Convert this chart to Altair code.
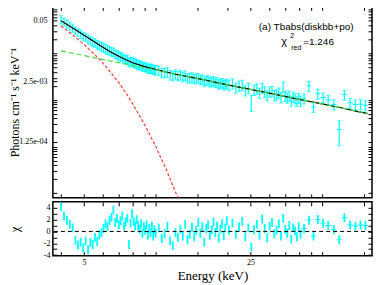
import altair as alt
import pandas as pd

energy = [
    4.00, 4.12, 4.24, 4.36, 4.48, 4.60, 4.72, 4.84, 4.96, 5.08,
    5.20, 5.32, 5.44, 5.56, 5.68, 5.80, 5.92, 6.04, 6.16, 6.28,
    6.40, 6.52, 6.64, 6.76, 6.88, 7.00, 7.12, 7.24, 7.36, 7.48,
    7.60, 7.72, 7.84, 7.96, 8.08, 8.20, 8.32, 8.44, 8.56, 8.68,
    8.80, 8.92, 9.04, 9.16, 9.28, 9.40, 9.52, 9.64, 9.76, 9.88,
    10.0, 10.3, 10.6, 10.9, 11.2, 11.5, 11.8, 12.1, 12.4, 12.7,
    13.0, 13.3, 13.6, 13.9, 14.2, 14.5, 14.8, 15.1, 15.4, 15.7,
    16.0, 16.3, 16.6, 16.9, 17.2, 17.5, 17.8, 18.1, 18.4, 18.7,
    19.0, 19.3, 19.6, 19.9,
    20.3, 21.0, 21.7, 22.4, 23.1, 23.8, 24.5, 25.2, 25.9, 26.6,
    27.3, 28.0, 28.7, 29.4, 30.1, 30.8, 31.5, 32.2, 32.9, 33.6,
    34.3, 35.0, 35.7, 36.4, 37.1, 37.8, 38.5, 39.2, 39.9, 40.6,
    42.0, 44.0, 46.0, 48.0, 50.5, 53.0, 56.0, 59.0, 62.0, 65.5,
    69.0, 72.5, 76.0,
]
flux = [
    .0535, .0481, .0435, .0392, .0354, .0312, .0283, .0262, .0238, .0225,
    .0203, .0192, .0177, .0170, .0156, .0149, .0141, .0134, .0128, .0120,
    .0115, .0110, .0107, .0098, .0095, .0089, .0086, .0083, .0077, .0075,
    .0074, .0065, .0068, .0068, .0064, .0062, .0061, .0058, .0056, .0056,
    .0053, .0053, .0051, .0051, .0048, .0048, .0048, .0048, .0045, .0045,
    .0044, .0044, .0039, .0039, .0040, .0035, .0033, .0036, .0033, .0035,
    .0032, .0034, .0030, .0030, .0031, .0029, .0029, .0030, .00275, .0028,
    .0025, .00267, .00268, .00246, .0025, .00258, .00237, .00243, .00221, .00231,
    .00234, .00213, .00221, .00227,
    .00213, .00229, .00185, .00203, .00213, .00161, .00181, .00091, .00167, .00176,
    .00144, .00180, .00153, .00126, .00152, .00155, .00127, .00132, .00144, .00114,
    .00194, .00124, .00113, .00125, .00097, .00117, .00109, .00096, .00112, .00097,
    .00108, .00200, .00071, .00136, .00113, .00100, .00080, .00023, .00130, .00087,
    .00080, .00081, .00077,
]
flux_frac_err = (
    [0.20] * 10 + [0.21] * 20 + [0.22] * 20 + [0.23] * 34
    + [0.25] * 7 + [0.38] + [0.25] * 22
    + [0.24] * 7 + [0.55] + [0.24] * 5
)
delchi = [
    4.2, 2.6, 1.9, 1.2, 0.6, -1.5, -2.3, -1.8, -2.8, -1.6,
    -3.1, -1.9, -2.2, -1.0, -1.7, -0.6, -0.2, 0.5, 1.3, 0.8,
    1.9, 2.4, 3.6, 1.5, 2.2, 1.1, 1.8, 2.6, 0.9, 1.6,
    2.2, -2.2, 1.4, 3.0, 1.7, 0.9, 2.0, 1.0, 0.4, 1.3,
    -0.3, 0.8, 0.2, 1.1, -0.6, 0.5, -0.2, 0.9, -0.8, 0.3,
    -0.3, 0.6, -1.2, -0.4, 0.9, -1.6, -2.4, -0.2, -1.0, 0.4,
    -0.8, 1.2, -1.4, -0.5, 0.7, -0.9, 0.2, 1.5, -0.3, 0.8,
    -1.8, 0.5, 1.1, -0.6, 0.3, 1.6, -0.2, 0.9, -1.1, 0.4,
    1.3, -0.7, 0.6, 1.8,
    0.2, 1.4, -0.5, 0.8, 1.7, -0.9, 0.6, -2.6, 0.3, 1.2,
    -0.6, 2.1, 0.5, -1.1, 0.9, 1.5, -0.4, 0.2, 1.3, -0.8,
    2.2, 0.4, -0.3, 1.0, -1.3, 0.6, 0.1, -0.9, 0.8, -0.5,
    0.5, 1.9, -0.8, 2.0, 1.4, 1.0, 0.3, -1.4, 2.3, 1.1,
    0.9, 1.1, 1.0,
]
# half bin widths (keV) of the wide high-energy bins (last 13 bins)
high_bin_half = [1.0, 1.0, 1.0, 1.2, 1.3, 1.5, 1.5, 1.5, 1.7, 1.75, 1.75, 1.75, 1.75]

# ---------------- model curves ----------------
model_energy = [4.0, 4.5, 5.0, 5.5, 6.0, 6.5, 7.0, 7.5, 8.0, 9.0, 10.0, 11.0, 12.0,
                14.0, 16.0, 20.0, 25.0, 30.0, 40.0, 50.0, 60.0, 70.0, 78.0]
model_total = [.0502, .0345, .0245, .0179, .0136, .0106, .0087, .0073, .0063, .0052,
               .0045, .0040, .0036, .0031, .0027, .0021, .00168, .00140, .00103,
               .00082, .00068, .00057, .00051]
model_po = [.0113, .0100, .0090, .0081, .0074, .0068, .0063, .0059, .0055, .0049,
            .0044, .0040, .0036, .0031, .0027, .0021, .00168, .00140, .00103,
            .00082, .00068, .00057, .00051]
disk_energy = [4.0, 4.5, 5.0, 5.5, 6.0, 6.5, 7.0, 7.5, 8.0, 9.0, 10.0, 11.0, 12.0, 12.8]
model_disk = [.039, .0245, .0155, .0098, .0062, .0038, .00234, .00141, 8.3e-4,
              2.9e-4, 1.0e-4, 3.5e-5, 1.17e-5, 5.4e-6]

# ---------------- ticks ----------------
x_major = [5, 25]
x_minor = [4, 6, 7, 8, 9, 10, 15, 20, 30, 35, 40, 45, 50, 75]
y_major = [0.05, 0.0025, 0.000125]
y_minor = [k * 10.0 ** n for n in range(-5, 0) for k in range(1, 10)]
r_ticks = [-4, -3, -2, -1, 0, 1, 2, 3, 4]

# ---------------- tables ----------------
n = len(energy)
half = [0.0] * (n - len(high_bin_half)) + high_bin_half
spec = pd.DataFrame({
    "E": energy,
    "flux": flux,
    "lo": [f * (1 - e) for f, e in zip(flux, flux_frac_err)],
    "hi": [f * (1 + e) for f, e in zip(flux, flux_frac_err)],
    "chi": delchi,
    "chi_lo": [c - 0.75 for c in delchi],
    "chi_hi": [c + 0.75 for c in delchi],
    "E_lo": [e - h for e, h in zip(energy, half)],
    "E_hi": [e + h for e, h in zip(energy, half)],
    "wide": [h > 0 for h in half],
})
wide = spec[spec["wide"]]
models = pd.DataFrame({"E": model_energy, "total": model_total, "po": model_po})
disk = pd.DataFrame({"E": disk_energy, "disk": model_disk})
zero = pd.DataFrame({"z": [0]})

serif = "Liberation Serif"
sans = "Liberation Sans"
cyan = "#00ffff"

xs = alt.Scale(type="log", domain=[3.7, 81.0], nice=False)
ys = alt.Scale(type="log", domain=[7.9e-6, 0.102], nice=False)
rs = alt.Scale(domain=[-4.1, 5.0], nice=False, zero=False)

common = dict(domain=False, grid=False, tickSize=4, offset=-4, tickColor="black",
              tickWidth=1, labelFont=serif, labelFontSize=8, labelColor="black",
              titleFont=serif, titleFontWeight="normal", titleColor="black",
              labelOverlap=False)
x_ticks = sorted(x_major + x_minor)
y_ticks = sorted(set(y_major + [v for v in y_minor if 7.9e-6 <= v <= 0.102]))

x_lab = "datum.value == 5 ? '5' : datum.value == 25 ? '25' : ''"
y_lab = ("datum.value == 0.05 ? '0.05' : datum.value == 0.0025 ? '2.5e-03' : "
         "datum.value == 0.000125 ? '1.25e-04' : ''")
r_lab = "datum.value % 2 == 0 ? '' + datum.value : ''"

ax_top_x = alt.Axis(orient="bottom", values=x_ticks, labels=False, title=None, **common)
ax_top_y = alt.Axis(orient="left", values=y_ticks, labelExpr=y_lab, labelPadding=6,
                    title="Photons cm\u207b\u00b9 s\u207b\u00b9 keV\u207b\u00b9",
                    titleFontSize=12, titlePadding=2, minExtent=33, maxExtent=33, **common)
ax_mirror_x = alt.Axis(orient="top", values=x_ticks, labels=False, title=None, **common)
ax_mirror_y = alt.Axis(orient="right", values=y_ticks, labels=False, title=None, **common)

W, H1, H2 = 320, 192, 54

# ---------------- top panel ----------------
err = alt.Chart(spec).mark_rule(color=cyan, strokeWidth=1.2, clip=True).encode(
    x=alt.X("E:Q", scale=xs, axis=ax_top_x),
    y=alt.Y("lo:Q", scale=ys, axis=ax_top_y),
    y2="hi:Q",
)
cap_lo = alt.Chart(spec).mark_tick(color=cyan, orient="horizontal", size=4,
                                   thickness=1, clip=True).encode(
    x=alt.X("E:Q", scale=xs, axis=None), y=alt.Y("lo:Q", scale=ys, axis=None))
cap_hi = alt.Chart(spec).mark_tick(color=cyan, orient="horizontal", size=4,
                                   thickness=1, clip=True).encode(
    x=alt.X("E:Q", scale=xs, axis=None), y=alt.Y("hi:Q", scale=ys, axis=None))
hbar = alt.Chart(wide).mark_rule(color=cyan, strokeWidth=1, clip=True).encode(
    x=alt.X("E_lo:Q", scale=xs, axis=None), x2="E_hi:Q",
    y=alt.Y("flux:Q", scale=ys, axis=None))
tot = alt.Chart(models).mark_line(color="black", strokeWidth=1.2, clip=True).encode(
    x=alt.X("E:Q", scale=xs, axis=None), y=alt.Y("total:Q", scale=ys, axis=None))
red = alt.Chart(disk).mark_line(color="#ff3b3b", strokeWidth=1.2, strokeDash=[3, 2],
                                clip=True).encode(
    x=alt.X("E:Q", scale=xs, axis=None), y=alt.Y("disk:Q", scale=ys, axis=None))
grn = alt.Chart(models).mark_line(color="#3ee03e", strokeWidth=1.2, strokeDash=[5, 3],
                                  clip=True).encode(
    x=alt.X("E:Q", scale=xs, axis=None), y=alt.Y("po:Q", scale=ys, axis=None))

ann = pd.DataFrame({"t": ["(a) Tbabs(diskbb+po)"]})
t1 = alt.Chart(ann).mark_text(font=sans, fontSize=10, color="black", align="center",
                              baseline="middle").encode(
    x=alt.value(254), y=alt.value(21), text="t:N")
chi_df = pd.DataFrame({"t": ["\u03c7"]})
t2 = alt.Chart(chi_df).mark_text(font=sans, fontSize=11, color="black", align="left",
                                 baseline="middle").encode(
    x=alt.value(229), y=alt.value(36), text="t:N")
t3 = alt.Chart(pd.DataFrame({"t": ["2"]})).mark_text(
    font=sans, fontSize=7, color="black", align="left", baseline="middle").encode(
    x=alt.value(238), y=alt.value(30), text="t:N")
t4 = alt.Chart(pd.DataFrame({"t": ["red"]})).mark_text(
    font=sans, fontSize=7, color="black", align="left", baseline="middle").encode(
    x=alt.value(239), y=alt.value(42), text="t:N")
t5 = alt.Chart(pd.DataFrame({"t": ["=1.246"]})).mark_text(
    font=sans, fontSize=10, color="black", align="left", baseline="middle").encode(
    x=alt.value(251), y=alt.value(36), text="t:N")

mirror_top = alt.Chart(models).mark_point(opacity=0).encode(
    x=alt.X("E:Q", scale=xs, axis=ax_mirror_x),
    y=alt.Y("total:Q", scale=ys, axis=ax_mirror_y))

top = alt.layer(err, cap_lo, cap_hi, hbar, tot, red, grn, t1, t2, t3, t4, t5,
                mirror_top).resolve_axis(x="independent", y="independent").properties(
    width=W, height=H1)

# ---------------- residual panel ----------------
ax_bot_x = alt.Axis(orient="bottom", values=x_ticks, labelExpr=x_lab, labelPadding=3,
                    title="Energy (keV)", titleFontSize=13, titlePadding=3, **common)
ax_bot_y = alt.Axis(orient="left", values=r_ticks, labelExpr=r_lab, labelPadding=3,
                    title="\u03c7", titleFontSize=13, titlePadding=2,
                    minExtent=33, maxExtent=33, **common)
ax_bm_x = alt.Axis(orient="top", values=x_ticks, labels=False, title=None, **common)
ax_bm_y = alt.Axis(orient="right", values=r_ticks, labels=False, title=None, **common)

rerr = alt.Chart(spec).mark_rule(color=cyan, strokeWidth=1.8, clip=True).encode(
    x=alt.X("E:Q", scale=xs, axis=ax_bot_x),
    y=alt.Y("chi_lo:Q", scale=rs, axis=ax_bot_y),
    y2="chi_hi:Q")
rh = alt.Chart(wide).mark_rule(color=cyan, strokeWidth=1, clip=True).encode(
    x=alt.X("E_lo:Q", scale=xs, axis=None), x2="E_hi:Q",
    y=alt.Y("chi:Q", scale=rs, axis=None))
zl = alt.Chart(zero).mark_rule(color="black", strokeWidth=1, strokeDash=[4, 3]).encode(
    y=alt.Y("z:Q", scale=rs, axis=None))
mirror_bot = alt.Chart(spec).mark_point(opacity=0).encode(
    x=alt.X("E:Q", scale=xs, axis=ax_bm_x),
    y=alt.Y("chi:Q", scale=rs, axis=ax_bm_y))

bottom = alt.layer(rerr, rh, zl, mirror_bot).resolve_axis(
    x="independent", y="independent").properties(width=W, height=H2)

chart = alt.vconcat(top, bottom, spacing=0).properties(
    padding={"top": -7, "left": 0, "right": 0, "bottom": 0}
).configure_view(stroke="black", strokeWidth=1.5)

chart.save("out.html", embed_options={"renderer": "svg", "actions": False})
